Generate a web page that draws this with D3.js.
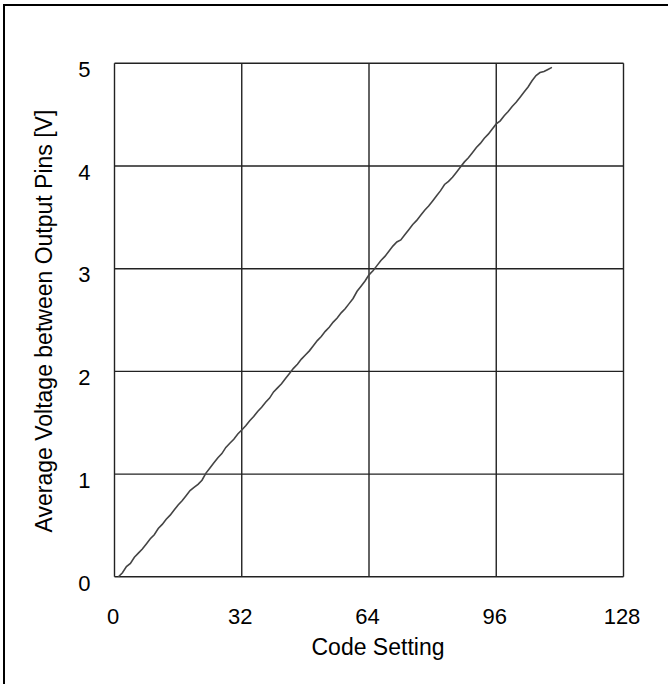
<!DOCTYPE html>
<html>
<head>
<meta charset="utf-8">
<script src="https://cdn.jsdelivr.net/npm/d3@7"></script>
<style>
html,body{margin:0;padding:0;background:#fff;}
svg{display:block;}
text{font-family:Arial,"Liberation Sans",sans-serif;fill:#000;}
</style>
</head>
<body>
<svg id="chart" width="668" height="684"></svg>
<script>
// Data
const codes = d3.range(1, 111);
const voltages = [
  0.00,0.04,0.10,0.13,0.19,0.23,0.27,0.32,0.37,0.41,
  0.47,0.51,0.56,0.60,0.65,0.70,0.74,0.79,0.84,0.87,
  0.90,0.94,1.01,1.06,1.11,1.16,1.20,1.26,1.30,1.34,
  1.39,1.43,1.47,1.52,1.56,1.61,1.65,1.70,1.74,1.80,
  1.84,1.88,1.93,1.98,2.03,2.07,2.12,2.16,2.20,2.25,
  2.30,2.34,2.39,2.43,2.48,2.52,2.57,2.61,2.66,2.71,
  2.78,2.83,2.88,2.94,2.98,3.03,3.08,3.12,3.17,3.22,
  3.26,3.28,3.33,3.38,3.43,3.47,3.52,3.57,3.61,3.66,
  3.71,3.76,3.82,3.85,3.89,3.94,3.99,4.04,4.08,4.13,
  4.18,4.22,4.27,4.31,4.36,4.41,4.44,4.49,4.53,4.58,
  4.62,4.67,4.72,4.77,4.83,4.88,4.91,4.92,4.94,4.96
];
const xTicks = [0, 32, 64, 96, 128];
const yTicks = [0, 1, 2, 3, 4, 5];
const xTitle = "Code Setting";
const yTitle = "Average Voltage between Output Pins [V]";

const svg = d3.select("#chart");
const L = 114.5, R = 623.5, T = 63.3, B = 576.8;
const x = d3.scaleLinear().domain([0, 128]).range([L, R]);
const y = d3.scaleLinear().domain([0, 5]).range([B, T]);
const FONT = "Arial, 'Liberation Sans', sans-serif";

// outer border (left & top visible)
svg.append("rect").attr("x", 4).attr("y", 5).attr("width", 700).attr("height", 700)
  .attr("fill", "none").attr("stroke", "#000").attr("stroke-width", 2);

// grid
const grid = svg.append("g").attr("stroke", "#222").attr("stroke-width", 1.4);
grid.selectAll("line.v").data(xTicks).join("line").attr("class", "v")
  .attr("x1", d => x(d)).attr("x2", d => x(d)).attr("y1", T).attr("y2", B);
grid.selectAll("line.h").data(yTicks).join("line").attr("class", "h")
  .attr("x1", L).attr("x2", R).attr("y1", d => y(d)).attr("y2", d => y(d));

// tick labels via d3 axes (no domain/tick lines)
const xAxis = svg.append("g").attr("transform", `translate(0,${B})`)
  .call(d3.axisBottom(x).tickValues(xTicks).tickFormat(d3.format("d")).tickSize(0).tickPadding(32));
xAxis.select(".domain").remove();
xAxis.selectAll("text").attr("font-size", 22).attr("font-family", FONT).attr("fill", "#000")
  .attr("dx", -2);

const yAxis = svg.append("g").attr("transform", `translate(${L},0)`)
  .call(d3.axisLeft(y).tickValues(yTicks).tickFormat(d3.format("d")).tickSize(0).tickPadding(24));
yAxis.select(".domain").remove();
yAxis.selectAll("text").attr("font-size", 22).attr("font-family", FONT).attr("fill", "#000")
  .attr("dy", "0.6em");

// titles
svg.append("text").attr("x", 378).attr("y", 655).attr("text-anchor", "middle")
  .attr("font-size", 23).text(xTitle);
svg.append("text").attr("transform", `translate(52,${(T + B) / 2 + 1}) rotate(-90)`)
  .attr("text-anchor", "middle").attr("font-size", 23).text(yTitle);

// data line
const line = d3.line().x((d, i) => x(codes[i])).y(d => y(d));
svg.append("path").datum(voltages).attr("d", line)
  .attr("fill", "none").attr("stroke", "#444").attr("stroke-width", 1.6);
</script>
</body>
</html>
